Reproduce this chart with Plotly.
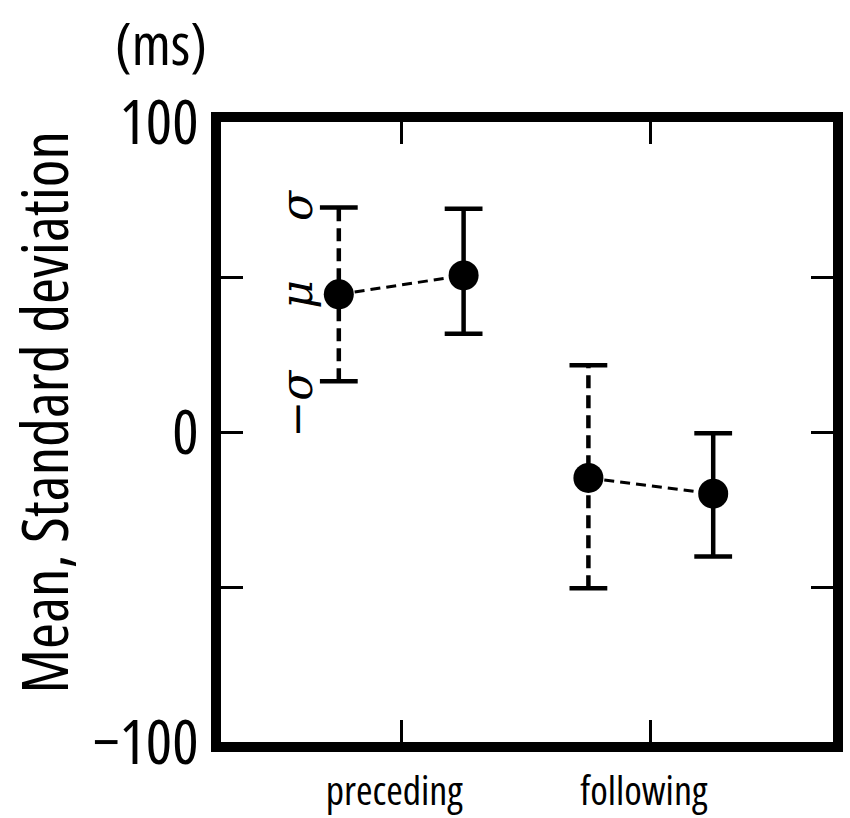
import plotly.graph_objects as go

# ---- data ----
categories = ["preceding", "following"]
category_ticks = [1.5, 3.5]
x_positions = [1, 2, 3, 4]                 # preceding-A, preceding-B, following-A, following-B
point_category = [0, 0, 1, 1]
means = [44.4, 50.5, -14.8, -19.9]
sd_plus = [28.0, 21.5, 36.3, 19.5]
sd_minus = [28.0, 18.8, 35.6, 20.3]
dashed_bar = [True, False, True, False]
y_tickvals = [-100, -50, 0, 50, 100]
y_ticktext = ["\u2212100", "", "0", "", "100"]
sigma_labels = ["\u03c3", "\u03bc", "\u2212\u03c3"]
y_title = "Mean, Standard deviation"
unit_label = "(ms)"

FONT = "Open Sans, Roboto, sans-serif"


def cond(s):
    """Condensed rendering of a text (Open Sans has a width axis)."""
    return '<span style="font-stretch:condensed">%s</span>' % s if s else s


fig = go.Figure()

# connecting lines within each category
for ci, cat in enumerate(categories):
    idx = [i for i in range(len(x_positions)) if point_category[i] == ci]
    fig.add_trace(go.Scatter(
        x=[x_positions[i] for i in idx], y=[means[i] for i in idx],
        mode="lines", line=dict(color="black", width=3, dash="10px,6px"),
        hoverinfo="skip", showlegend=False))

# error bars (vertical whiskers + caps)
for i in range(len(x_positions)):
    lo = means[i] - sd_minus[i]
    hi = means[i] + sd_plus[i]
    fig.add_trace(go.Scatter(
        x=[x_positions[i], x_positions[i]], y=[lo, hi], mode="lines",
        line=dict(color="black", width=4.5,
                  dash="13px,7px" if dashed_bar[i] else "solid"),
        hoverinfo="skip", showlegend=False))
    fig.add_trace(go.Scatter(
        x=[x_positions[i], x_positions[i]], y=[lo, hi], mode="markers",
        marker=dict(symbol="line-ew", size=27, color="black",
                    line=dict(color="black", width=4.5)),
        hoverinfo="skip", showlegend=False))

# mean markers
fig.add_trace(go.Scatter(
    x=x_positions, y=means, mode="markers",
    marker=dict(symbol="circle", size=30, color="black"),
    showlegend=False))

# sigma / mu labels next to the first point
i0 = 0
lab_x = x_positions[i0] - 0.34
lab_y = [means[i0] + sd_plus[i0], means[i0], means[i0] - sd_minus[i0]]
lab_shift = [3, 0, -22]
for txt, yy, ys in zip(sigma_labels, lab_y, lab_shift):
    fig.add_annotation(
        x=lab_x, y=yy, xref="x", yref="y", text=txt, showarrow=False,
        textangle=-90, yshift=ys, xanchor="center", yanchor="middle",
        font=dict(family="DejaVu Serif, Liberation Serif, serif", size=44,
                  color="black", style="italic"))

# y-axis title and unit label
fig.add_annotation(
    x=-0.29, y=0.532, xref="paper", yref="paper", text=cond(y_title),
    showarrow=False, textangle=-90, xanchor="center", yanchor="middle",
    font=dict(family=FONT, size=63, color="black"))
fig.add_annotation(
    x=-0.098, y=1.128, xref="paper", yref="paper", text=cond(unit_label),
    showarrow=False, xanchor="center", yanchor="middle",
    font=dict(family=FONT, size=58, color="black"))

fig.update_xaxes(
    range=[0.056, 4.96], tickmode="array", tickvals=category_ticks,
    ticktext=[cond(c) for c in categories], ticks="inside", ticklen=22,
    tickwidth=3, tickcolor="black", showline=True, linewidth=10,
    linecolor="black", mirror="ticks", showgrid=False, zeroline=False,
    ticklabelshift=-7, ticklabelstandoff=5, automargin=False,
    tickfont=dict(family=FONT, size=40, color="black"))
fig.update_yaxes(
    range=[-100, 100], tickmode="array", tickvals=y_tickvals,
    ticktext=[cond(t) for t in y_ticktext], ticks="inside", ticklen=22,
    tickwidth=3, tickcolor="black", showline=True, linewidth=10,
    linecolor="black", mirror="ticks", showgrid=False, zeroline=False,
    automargin=False,
    tickfont=dict(family=FONT, size=62, color="black"))

fig.update_layout(
    width=850, height=818,
    margin=dict(l=221, r=17, t=122, b=76),
    paper_bgcolor="white", plot_bgcolor="white",
    showlegend=False)

fig.write_html("out.html")
